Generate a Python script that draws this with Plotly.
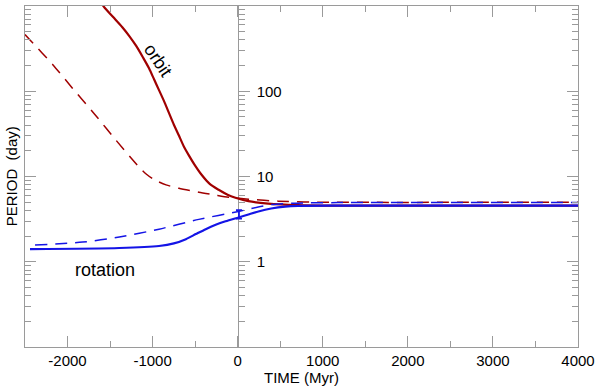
import plotly.graph_objects as go

# time (Myr) and period (day)
orbit_t = [-1648, -1566, -1461, -1356, -1274, -1193, -1111, -1041, -983, -925, -866, -808, -750, -691,
           -633, -574, -504, -422, -329, -224, -119, -26, 126, 359, 709, 1176, 4000]
orbit_p = [1253, 961, 737, 564, 444, 340, 247, 185, 138, 103, 76.6, 55.7, 40.5, 30.2,
           22.5, 17.7, 13.6, 10.4, 8.18, 6.98, 6.11, 5.64, 5.14, 4.81, 4.62, 4.56, 4.55]

orbit2_t = [-2500, -2441, -2173, -1940, -1684, -1427, -1159, -1076, -983, -842, -691, -457, -282, -107,
            126, 476, 943, 4000]
orbit2_p = [462, 399, 205, 108, 54.2, 26.4, 12.9, 10.7, 9.21, 7.98, 7.27, 6.53, 6.11, 5.72,
            5.42, 5.14, 5.0, 5.0]

rot_t = [-2441, -1391, -925, -750, -609, -492, -376, -259, -143, 9, 126, 243, 394, 558, 709, 1200, 4000]
rot_p = [1.41, 1.45, 1.53, 1.64, 1.84, 2.11, 2.41, 2.71, 2.98, 3.31, 3.59, 3.89, 4.21, 4.44, 4.53, 4.55, 4.55]

rot2_t = [-2382, -1822, -1391, -925, -457, 9, 394, 709, 1176, 4000]
rot2_p = [1.57, 1.70, 1.95, 2.41, 3.14, 3.89, 4.68, 4.87, 4.94, 4.95]

# observed rotation period with its range
obs_t = [15]
obs_p = [3.6]
obs_hi = [0.43]
obs_lo = [0.4]

xticks = [-2000, -1000, 0, 1000, 2000, 3000, 4000]
xticktext = ["-2000", "-1000", "0", "1000", "2000", "3000", "4000"]
yticks = [1, 10, 100]
yminor = [m * 10 ** e for e in range(-1, 3) for m in range(2, 10)]

RED = "#a00000"
BLUE = "#1414e6"
GRAY = "#9a9a9a"
FONT = "Liberation Sans, Arial, sans-serif"

fig = go.Figure()

fig.add_trace(go.Scatter(x=orbit_t, y=orbit_p, mode="lines", line=dict(color=RED, width=2.2, shape="spline", smoothing=0.7), showlegend=False))
fig.add_trace(go.Scatter(x=orbit2_t, y=orbit2_p, mode="lines", line=dict(color=RED, width=1.5, dash="12px,8px", shape="spline", smoothing=0.7), showlegend=False))
fig.add_trace(go.Scatter(x=rot_t, y=rot_p, mode="lines", line=dict(color=BLUE, width=2.2, shape="spline", smoothing=0.7), showlegend=False))
fig.add_trace(go.Scatter(x=rot2_t, y=rot2_p, mode="lines", line=dict(color=BLUE, width=1.5, dash="12px,8px", shape="spline", smoothing=0.7), showlegend=False))
# the observed point sits on the second y axis, which is drawn along TIME = 0
fig.add_trace(go.Scatter(
    x=obs_t, y=obs_p, mode="markers", marker=dict(size=1, color="rgba(0,0,0,0)"),
    error_y=dict(type="data", symmetric=False, array=obs_hi, arrayminus=obs_lo, color=BLUE, thickness=1.8, width=3),
    showlegend=False, yaxis="y2"))

fig.add_annotation(x=-936, y=2.37, xref="x", yref="y", text="orbit", showarrow=False, textangle=56,
                   font=dict(family=FONT, size=18, color="black"))
fig.add_annotation(x=-1554, y=-0.094, xref="x", yref="y", text="rotation", showarrow=False,
                   font=dict(family=FONT, size=18, color="black"))
fig.add_annotation(x=-0.024, y=0.5, xref="paper", yref="paper", xanchor="center", yanchor="middle",
                   text="PERIOD  (day)", showarrow=False,
                   textangle=-90, font=dict(family=FONT, size=15, color="black"))

fig.update_layout(
    width=600, height=390,
    margin=dict(l=25, r=18, t=5, b=43),
    paper_bgcolor="white", plot_bgcolor="white",
    font=dict(family=FONT, size=15, color="black"),
    xaxis=dict(
        range=[-2500, 4000], tickvals=xticks, ticktext=xticktext, ticks="inside", ticklen=11, tickcolor=GRAY,
        showline=True, linecolor=GRAY, linewidth=1, mirror="ticks", showgrid=False, zeroline=False,
        minor=dict(dtick=500, ticks="inside", ticklen=6, tickcolor=GRAY, showgrid=False),
        title=dict(text="TIME (Myr)", standoff=2, font=dict(size=15)),
    ),
    yaxis=dict(
        type="log", range=[-1, 3], tickvals=yticks, showticklabels=False, ticks="inside", ticklen=11,
        tickcolor=GRAY, showline=True, linecolor=GRAY, linewidth=1, mirror="ticks", showgrid=False,
        zeroline=False,
        minor=dict(tickmode="array", tickvals=yminor, ticks="inside", ticklen=6, tickcolor=GRAY, showgrid=False),
    ),
    yaxis2=dict(
        type="log", range=[-1, 3], overlaying="y", anchor="free", position=2500 / 6500, side="right",
        tickvals=yticks, ticktext=["1", "10", "100"], ticks="outside", ticklen=11, tickcolor=GRAY,
        showline=True, linecolor=GRAY, linewidth=1, showgrid=False, zeroline=False, layer="below traces",
        ticklabelstandoff=4,
        minor=dict(tickmode="array", tickvals=yminor, ticks="outside", ticklen=6, tickcolor=GRAY, showgrid=False),
    ),
)

# the page body has a default 8px margin; drop it so the 600x390 figure fills the window
fig.write_html("out.html", config={"displayModeBar": False},
               post_script="document.body.style.margin='0px';")
